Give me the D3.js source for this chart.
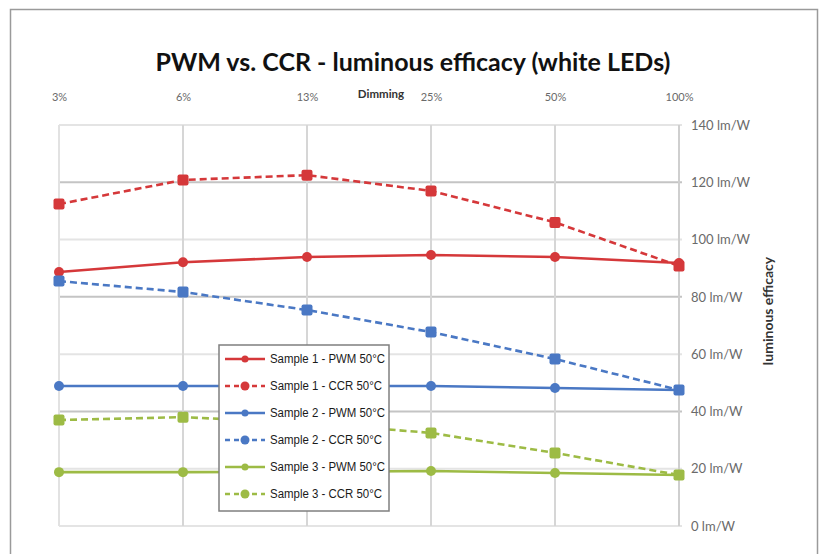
<!DOCTYPE html>
<html>
<head>
<meta charset="utf-8">
<script src="https://cdn.jsdelivr.net/npm/d3@7"></script>
<style>
  body { margin: 0; background: #fff; }
  svg { display: block; }
</style>
</head>
<body>
<svg id="chart"></svg>
<script>
// Dimming levels (top axis) and efficacy ticks (right axis)
var dimming = ["3%", "6%", "13%", "25%", "50%", "100%"];
var yTicks = [0, 20, 40, 60, 80, 100, 120, 140];

// values in lm/W
var s1Pwm = [88.7, 92.1, 93.9, 94.6, 93.9, 91.8];
var s1Ccr = [112.4, 120.8, 122.5, 117, 106, 90.8];
var s2Pwm = [48.9, 48.9, 48.9, 48.9, 48.2, 47.5];
var s2Ccr = [85.5, 81.7, 75.4, 67.7, 58.3, 47.5];
var s3Pwm = [18.8, 18.8, 18.9, 19.2, 18.5, 17.8];
var s3Ccr = [37, 38, 36, 32.5, 25.5, 17.8];

var seriesNames = ["Sample 1 - PWM 50°C", "Sample 1 - CCR 50°C",
                   "Sample 2 - PWM 50°C", "Sample 2 - CCR 50°C",
                   "Sample 3 - PWM 50°C", "Sample 3 - CCR 50°C"];
var seriesValues = [s1Pwm, s1Ccr, s2Pwm, s2Ccr, s3Pwm, s3Ccr];

var red = "#d5383a", blue = "#4a78c4", green = "#9dbb45";
var colors = [red, red, blue, blue, green, green];

var series = seriesNames.map(function(name, i) {
    return {
        name: name,
        color: colors[i],
        dashed: name.indexOf("CCR") > -1,
        values: seriesValues[i].map(function(v, j) { return {cat: dimming[j], v: v}; })
    };
});

var W = 827, H = 554;
var svg = d3.select("#chart").attr("width", W).attr("height", H);

// outer frame
svg.append("rect")
    .attr("x", 10.5).attr("y", 9.5)
    .attr("width", 807).attr("height", 560)
    .attr("fill", "none")
    .attr("stroke", "#9a9a9a")
    .attr("stroke-width", 1.5);

var x = d3.scalePoint().domain(dimming).range([59, 679]);
var y = d3.scaleLinear().domain([0, 140]).range([526, 125]);

// horizontal grid (the 40/80/120 lines come out darker in the picture)
svg.append("g").selectAll("line")
    .data(yTicks)
    .enter()
    .append("line")
    .attr("x1", x.range()[0])
    .attr("x2", x.range()[1] + 3)
    .attr("y1", function(d) { return y(d); })
    .attr("y2", function(d) { return y(d); })
    .attr("stroke", function(d) { return d % 40 == 0 && d > 0 ? "#c4c4c4" : "#e4e4e4"; })
    .attr("stroke-width", 2);

// vertical grid
svg.append("g").selectAll("line")
    .data(dimming)
    .enter()
    .append("line")
    .attr("x1", function(d) { return x(d); })
    .attr("x2", function(d) { return x(d); })
    .attr("y1", y(140))
    .attr("y2", y(0))
    .attr("stroke", function(d, i) { return i == 0 ? "#e2e2e2" : (i == dimming.length - 1 ? "#cfcfcf" : "#d6d6d6"); })
    .attr("stroke-width", 2);

// top axis - dimming
var xAxis = svg.append("g")
    .attr("transform", "translate(0,101)")
    .call(d3.axisTop(x).tickSize(0).tickPadding(0));
xAxis.select(".domain").remove();
xAxis.selectAll("text")
    .attr("font-family", "Lato, 'Open Sans', sans-serif")
    .attr("font-size", 11)
    .attr("fill", "#6a6a6a");

svg.append("text")
    .attr("x", 381).attr("y", 98)
    .attr("text-anchor", "middle")
    .attr("font-family", "Lato, sans-serif")
    .attr("font-weight", 700)
    .attr("font-size", 11.5)
    .attr("fill", "#333")
    .text("Dimming");

// right axis - efficacy
var yAxis = svg.append("g")
    .attr("transform", "translate(" + (x.range()[1] + 8) + ",0)")
    .call(d3.axisRight(y).tickValues(yTicks).tickSize(0).tickPadding(4)
        .tickFormat(function(d) { return d + " lm/W"; }));
yAxis.select(".domain").remove();
yAxis.selectAll("text")
    .attr("font-family", "Lato, 'Open Sans', sans-serif")
    .attr("font-size", 13)
    .attr("fill", "#6a6a6a");

svg.append("text")
    .attr("transform", "translate(773,311) rotate(-90)")
    .attr("text-anchor", "middle")
    .attr("font-family", "Lato, sans-serif")
    .attr("font-weight", 700)
    .attr("font-size", 14)
    .attr("fill", "#333")
    .text("luminous efficacy");

// title
svg.append("text")
    .attr("x", 413).attr("y", 71)
    .attr("text-anchor", "middle")
    .attr("font-family", "Lato, sans-serif")
    .attr("font-weight", 700)
    .attr("font-size", 25)
    .attr("fill", "#111")
    .text("PWM vs. CCR - luminous efficacy (white LEDs)");

// lines
var line = d3.line()
    .x(function(d) { return x(d.cat); })
    .y(function(d) { return y(d.v); });

var sg = svg.append("g").selectAll("g")
    .data(series)
    .enter()
    .append("g");

sg.append("path")
    .attr("d", function(d) { return line(d.values); })
    .attr("fill", "none")
    .attr("stroke", function(d) { return d.color; })
    .attr("stroke-width", 2.6)
    .attr("stroke-dasharray", function(d) { return d.dashed ? "7,4" : null; });

sg.each(function(s) {
    var g = d3.select(this);
    if (s.dashed) {
        g.selectAll("rect")
            .data(s.values)
            .enter()
            .append("rect")
            .attr("x", function(d) { return x(d.cat) - 5.5; })
            .attr("y", function(d) { return y(d.v) - 5.5; })
            .attr("width", 11).attr("height", 11)
            .attr("rx", 2)
            .attr("fill", s.color);
    } else {
        g.selectAll("circle")
            .data(s.values)
            .enter()
            .append("circle")
            .attr("cx", function(d) { return x(d.cat); })
            .attr("cy", function(d) { return y(d.v); })
            .attr("r", 5)
            .attr("fill", s.color);
    }
});

// legend
var legend = svg.append("g").attr("transform", "translate(219,345)");
legend.append("rect")
    .attr("width", 170).attr("height", 166)
    .attr("fill", "#fff")
    .attr("stroke", "#7f7f7f")
    .attr("stroke-width", 1.5);

var item = legend.selectAll("g.item")
    .data(series)
    .enter()
    .append("g")
    .attr("class", "item")
    .attr("transform", function(d, i) { return "translate(0," + (14 + i * 27) + ")"; });

item.append("line")
    .attr("x1", 6).attr("x2", 46)
    .attr("stroke", function(d) { return d.color; })
    .attr("stroke-width", 2.5)
    .attr("stroke-dasharray", function(d) { return d.dashed ? "5,4" : null; });

item.append("circle")
    .attr("cx", 26)
    .attr("r", function(d) { return d.dashed ? 4.5 : 3.5; })
    .attr("fill", function(d) { return d.color; });

item.append("text")
    .attr("x", 51).attr("y", 4)
    .attr("font-family", "'Liberation Sans Narrow', 'Liberation Sans', sans-serif")
    .attr("font-size", 12.5)
    .attr("fill", "#1a1a1a")
    .attr("textLength", function(d) { return d.dashed ? 112 : 115; })
    .attr("lengthAdjust", "spacingAndGlyphs")
    .text(function(d) { return d.name; });
</script>
</body>
</html>
